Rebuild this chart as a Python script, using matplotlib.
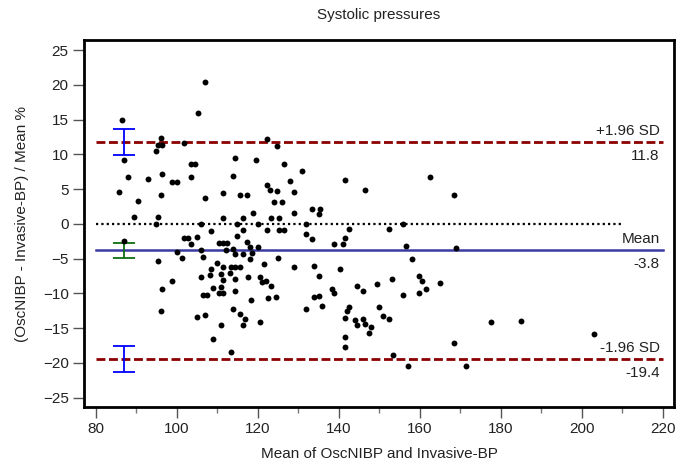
import numpy as np
import matplotlib.pyplot as plt
from matplotlib.ticker import MultipleLocator

plt.rcParams['font.family'] = ['Liberation Sans', 'DejaVu Sans']

# mean of the two methods (mmHg) and relative difference (%)
mean_bp = [
    106.9, 105.3, 86.4, 87.0, 96.0, 94.9, 95.5, 96.4, 101.9, 122.4,
    124.8, 88.0, 85.8, 90.4, 89.5, 92.9, 96.4, 96.0, 95.5, 94.9,
    98.9, 100.0, 103.5, 104.5, 103.5, 106.9, 106.0, 108.5, 114.3, 114.0,
    119.5, 111.5, 111.5, 115.6, 117.4, 115.0, 116.4, 118.9, 120.0, 115.0,
    116.4, 122.4, 123.0, 124.0, 123.4, 122.4, 124.8, 125.2, 125.2, 101.8,
    102.8, 104.9, 87.0, 95.4, 96.4, 96.0, 98.8, 100.0, 101.4, 103.5,
    105.9, 106.6, 110.4, 111.5, 112.4, 112.1, 114.0, 114.4, 116.4, 117.4,
    118.0, 118.6, 118.1, 120.0, 121.5, 124.9, 109.9, 108.4, 111.5, 113.1,
    113.3, 114.5, 115.7, 108.1, 105.9, 111.0, 111.4, 114.4, 117.5, 120.6,
    121.0, 122.0, 123.4, 109.0, 110.9, 110.4, 111.5, 114.4, 106.6, 107.5,
    118.4, 122.5, 124.5, 114.0, 115.6, 116.9, 116.4, 120.6, 104.9, 106.9,
    111.0, 109.0, 113.4, 126.4, 131.0, 128.0, 129.0, 126.0, 129.0, 133.5,
    135.5, 135.1, 131.9, 141.6, 146.5, 162.5, 168.5, 156.0, 152.4, 142.5,
    126.5, 131.9, 133.5, 141.6, 138.9, 141.0, 156.5, 158.0, 169.0, 129.0,
    133.9, 135.1, 140.4, 131.9, 133.9, 135.1, 136.0, 138.4, 138.9, 144.4,
    145.9, 149.4, 153.1, 156.0, 159.9, 160.5, 161.5, 159.9, 165.0, 142.5,
    142.1, 141.6, 144.0, 144.4, 145.9, 146.5, 148.1, 147.5, 149.9, 151.0,
    152.5, 141.6, 141.6, 153.5, 157.0, 168.5, 177.6, 185.0, 171.4, 203.0,
]
diff_pct = [
    20.4, 16.0, 15.0, 9.15, 12.4, 10.5, 11.35, 11.35, 11.7, 12.2,
    11.2, 6.75, 4.6, 3.3, 1.05, 6.4, 7.2, 4.1, 0.96, 0.0,
    6.0, 6.0, 8.6, 8.6, 6.7, 3.7, 0.0, -1.0, 9.5, 6.9,
    9.15, 4.4, 0.9, 4.2, 4.2, 0.0, 0.8, 1.5, 0.0, -1.7,
    -0.9, 5.6, 4.8, 3.1, 0.8, -0.9, 4.7, 0.8, -0.9, -2.0,
    -2.0, -1.9, -2.4, -5.3, -9.4, -12.5, -8.2, -4.1, -4.9, -2.9,
    -3.7, -4.8, -2.8, -2.8, -2.8, -3.7, -3.6, -4.4, -4.3, -2.6,
    -3.3, -4.2, -5.1, -3.35, -5.75, -4.9, -5.6, -6.5, -6.2, -7.0,
    -6.2, -6.2, -6.2, -7.4, -7.6, -7.2, -8.1, -7.95, -7.7, -7.6,
    -8.3, -8.2, -8.95, -9.2, -9.1, -10.0, -9.95, -9.6, -10.3, -10.2,
    -11.0, -10.7, -10.5, -12.3, -13.0, -13.7, -14.6, -14.1, -13.4, -13.1,
    -14.5, -16.5, -18.5, 8.6, 7.6, 6.2, 4.6, 3.1, 1.5, 2.15,
    2.15, 1.4, 0.0, 6.3, 4.8, 6.7, 4.1, 0.0, -0.8, -0.8,
    -0.9, -1.5, -2.2, -2.1, -2.9, -2.9, -3.2, -5.1, -3.5, -6.2,
    -6.0, -7.5, -6.5, -12.2, -10.5, -10.4, -11.8, -9.4, -10.0, -9.0,
    -9.6, -8.7, -7.9, -10.2, -7.5, -8.2, -9.3, -10.0, -8.5, -11.9,
    -12.6, -13.5, -13.8, -14.5, -13.75, -14.4, -14.9, -15.7, -12.0, -13.3,
    -13.75, -16.3, -17.7, -18.8, -20.4, -17.2, -14.1, -14.0, -20.4, -15.8,
]

mean_diff = -3.8
upper_loa = 11.8
lower_loa = -19.4
# 95% confidence intervals drawn at the left edge
ci_upper = (9.9, 13.7)
ci_mean = (-4.9, -2.7)
ci_lower = (-21.3, -17.5)

fig = plt.figure(figsize=(6.86, 4.70), dpi=100)
ax = fig.add_axes([0.1224, 0.134, 0.8601, 0.7809])

ax.scatter(mean_bp, diff_pct, s=18, color='black', zorder=3, linewidths=0)

ax.plot([80, 210], [0, 0], color='black', ls=(0, (1, 1.4)), lw=1.6)
ax.plot([80, 220], [mean_diff, mean_diff], color='#3a3aa0', lw=1.8)
for lim in (upper_loa, lower_loa):
    ax.plot([80, 220], [lim, lim], color='#8b0000', lw=2.0, dashes=(3.2, 1.3))

ci_x = 87.0
for (lo, hi), col in ((ci_upper, '#0000ff'), (ci_mean, '#107010'), (ci_lower, '#0000ff')):
    mid = (lo + hi) / 2
    ax.errorbar([ci_x], [mid], yerr=[[mid - lo], [hi - mid]], fmt='none',
                ecolor=col, elinewidth=1.3, capsize=8, capthick=1.3, zorder=2)

txt = dict(ha='right', fontsize=11, color='#222222', textcoords='offset points')
ax.annotate('+1.96 SD', (219.3, upper_loa), xytext=(0, 3), va='bottom', **txt)
ax.annotate(f'{upper_loa:.1f}', (219.3, upper_loa), xytext=(0, -5), va='top', **txt)
ax.annotate('Mean', (219.3, mean_diff), xytext=(0, 3), va='bottom', **txt)
ax.annotate(f'{mean_diff:.1f}', (219.3, mean_diff), xytext=(0, -5), va='top', **txt)
ax.annotate('-1.96 SD', (219.3, lower_loa), xytext=(0, 3), va='bottom', **txt)
ax.annotate(f'{lower_loa:.1f}', (219.3, lower_loa), xytext=(0, -5), va='top', **txt)

ax.set_xlim(77.1, 222.8)
ax.set_ylim(-26.35, 26.45)
ax.set_xticks(np.arange(80, 221, 20))
ax.xaxis.set_minor_locator(MultipleLocator(10))
ax.set_yticks(np.arange(-25, 26, 5))

for sp in ax.spines.values():
    sp.set_linewidth(2.0)
    sp.set_color('black')

ax.tick_params(axis='both', which='major', direction='out', length=8, width=1,
               color='#555555', labelsize=11, labelcolor='#222222', pad=3)
ax.tick_params(axis='x', which='minor', direction='out', length=4, width=1,
               color='#777777')

ax.set_xlabel('Mean of OscNIBP and Invasive-BP', fontsize=11, color='#222222', labelpad=8)
ax.set_ylabel('(OscNIBP - Invasive-BP) / Mean %', fontsize=11, color='#222222', labelpad=10)
ax.set_title('Systolic pressures', fontsize=11, color='#222222', pad=15)

fig.savefig('out.png', dpi=100)
